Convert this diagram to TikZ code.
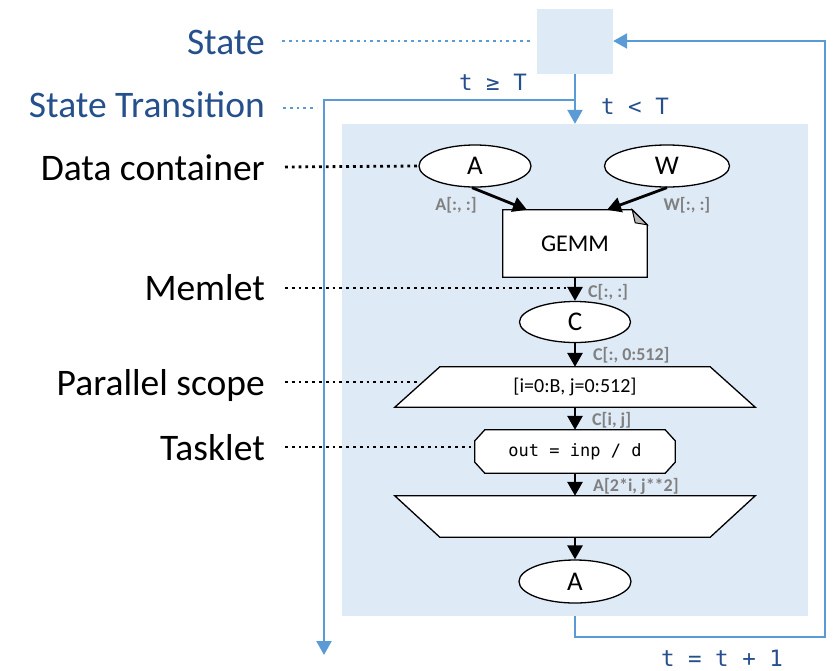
\documentclass[tikz,border=0pt]{standalone}
\usepackage{fontspec}
\setmainfont{Carlito}
\newfontfamily\monof{DejaVu Sans Mono}
\usetikzlibrary{arrows.meta,shapes.geometric,calc}
\definecolor{bgblue}{RGB}{222,234,246}
\definecolor{lineblue}{RGB}{91,155,213}
\definecolor{txtblue}{RGB}{38,80,140}
\definecolor{memgray}{RGB}{128,128,128}
\tikzset{
  lbl/.style={font=\fontsize{37.5}{42}\selectfont, anchor=base east, inner sep=0pt},
  bluelbl/.style={lbl, text=txtblue},
  dotblack/.style={draw=black, line width=2.8pt, line cap=butt, dash pattern=on 2.8pt off 4pt},
  dotblue/.style={dotblack, draw=lineblue},
  flow/.style={draw=lineblue, line width=2.4pt, line join=miter},
  flowarrow/.style={flow, -{Triangle[length=14pt,width=15pt]}},
  edgearrow/.style={draw=black, line width=2.8pt, -{Triangle[length=14pt,width=15pt]}},
  datanode/.style={ellipse, draw=black, line width=1.3pt, fill=white, inner sep=0pt, font=\fontsize{27}{30}\selectfont},
  memlbl/.style={font=\bfseries\fontsize{18}{20}\selectfont, text=memgray, inner sep=0pt},
  cond/.style={font=\monof\fontsize{22.5}{26}\selectfont, text=txtblue, inner sep=0pt},
  shapeline/.style={draw=black, line width=1.3pt, fill=white, line join=miter},
  holder/.style={draw=none, inner sep=0pt},
}
\begin{document}
\begin{tikzpicture}[x=1pt,y=-1pt]
\useasboundingbox (0,0) rectangle (836,670);
% state boxes
\node[fill=bgblue, minimum width=76pt, minimum height=65pt, inner sep=0pt] (state) at (575,41) {};
\node[fill=bgblue, minimum width=466pt, minimum height=492pt, inner sep=0pt] (body) at (575,370) {};

% left labels
\node[bluelbl] (lstate) at (265,54) {State};
\node[bluelbl] (ltrans) at (265,117) {State Transition};
\node[lbl] (ldata) at (265,180) {Data container};
\node[lbl] (lmem) at (265,300) {Memlet};
\node[lbl] (lmap) at (265,395) {Parallel scope};
\node[lbl] (ltask) at (265,460) {Tasklet};

% data containers
\node[datanode, minimum width=112pt, minimum height=42pt] (A) at (475,166) {A};
\node[datanode, minimum width=125pt, minimum height=42pt] (W) at (667,166) {W};

% GEMM library node
\node[holder, minimum width=144pt, minimum height=67pt] (gemm) at (575,243.5) {};
\draw[shapeline] (gemm.north west) -- ([xshift=-15pt]gemm.north east) -- ([yshift=-15pt]gemm.north east) -- (gemm.south east) -- (gemm.south west) -- cycle;
\draw[draw=black, line width=1pt, fill=gray!55, line join=miter] ([xshift=-15pt]gemm.north east) -- ([xshift=-12pt,yshift=-13pt]gemm.north east) -- ([yshift=-15pt]gemm.north east) -- cycle;
\node[inner sep=0pt, font=\fontsize{24}{28}\selectfont] (gemmtext) at (gemm) {GEMM};

\node[datanode, minimum width=111pt, minimum height=41pt] (C) at (575,322) {C};

% map entry
\node[holder, minimum width=360pt, minimum height=40pt] (map) at (575,387) {};
\draw[shapeline] ([xshift=45pt]map.north west) -- ([xshift=-45pt]map.north east) -- (map.south east) -- (map.south west) -- cycle;
\node[inner sep=0pt, font=\fontsize{20}{24}\selectfont] (maptext) at (map) {[i=0:B, j=0:512]};

% tasklet
\node[holder, minimum width=200pt, minimum height=43pt] (task) at (575,451.5) {};
\draw[shapeline] ([xshift=10pt]task.north west) -- ([xshift=-10pt]task.north east) -- ([yshift=-11pt]task.north east) -- ([yshift=11pt]task.south east) -- ([xshift=-10pt]task.south east) -- ([xshift=10pt]task.south west) -- ([yshift=11pt]task.south west) -- ([yshift=-11pt]task.north west) -- cycle;
\node[inner sep=0pt, font=\monof\fontsize{17}{20}\selectfont] (tasktext) at (task) {out = inp / d};

% map exit
\node[holder, minimum width=360pt, minimum height=41pt] (mapx) at (575,516.5) {};
\draw[shapeline] (mapx.north west) -- (mapx.north east) -- ([xshift=-45pt]mapx.south east) -- ([xshift=45pt]mapx.south west) -- cycle;

\node[datanode, minimum width=112pt, minimum height=43pt] (A2) at (575,581.5) {A};

% memlets
\draw[edgearrow] ([xshift=-3pt]A.south) -- ([xshift=-48pt]gemm.north);
\draw[edgearrow] (W.south) -- ([xshift=32pt]gemm.north);
\draw[edgearrow] (gemm.south) -- (C.north);
\draw[edgearrow] (C.south) -- (map.north);
\draw[edgearrow] (map.south) -- (task.north);
\draw[edgearrow] (task.south) -- (mapx.north);
\draw[edgearrow] (mapx.south) -- (A2.north);

\node[memlbl] (mA) at (456,205) {A[:, :]};
\node[memlbl] (mW) at (687,205) {W[:, :]};
\node[memlbl, anchor=west] (mC1) at (588,292) {C[:, :]};
\node[memlbl, anchor=west] (mC2) at (593,355) {C[:, 0:512]};
\node[memlbl, anchor=west] (mC3) at (592,420) {C[i, j]};
\node[memlbl, anchor=west] (mA2) at (593,486) {A[2*i, j**2]};

% state transitions
\coordinate (split) at (575,100);
\coordinate (exitend) at (324,655);
\coordinate (loopcorner) at (825,637);
\draw[flowarrow] (state.south) -- (state.south |- body.north);
\draw[flowarrow] (split) -| (exitend);
\draw[flowarrow] (body.south) |- (loopcorner) |- (state.east);

\node[cond] (tge) at (493,82) {t ≥ T};
\node[cond] (tlt) at (635,106) {t < T};
\node[cond] (tinc) at (722,658) {t = t + 1};

% dotted pointers
\draw[dotblue] (282,41) -- ([xshift=-4pt]state.west);
\draw[dotblue] (283,108) -- (317,108);
\draw[dotblack] (285,167) -- (A.west);
\draw[dotblack] (285,288) -- (566,288);
\draw[dotblack] (285,382) -- (418,382);
\draw[dotblack] (285,447) -- (472,447);
\end{tikzpicture}
\end{document}
